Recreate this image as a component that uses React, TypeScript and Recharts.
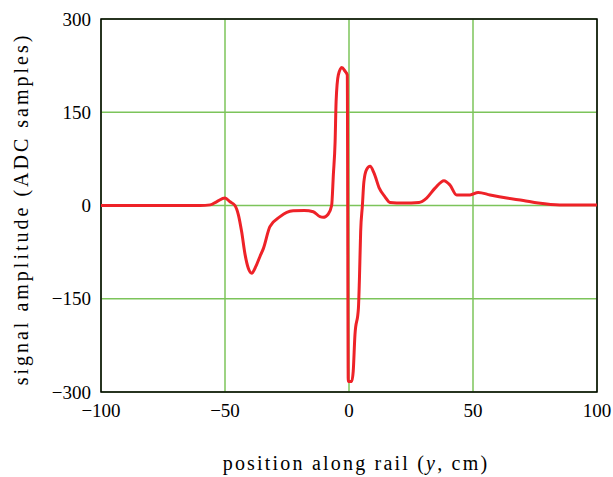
import React from 'react';
import { LineChart, Line, XAxis, YAxis, CartesianGrid, ReferenceArea } from 'recharts';

// position along rail (cm)
const positions = [
  -100, -80, -60, -56, -53.4, -50, -48, -46, -44.6, -43.3, -41.9, -40.6, -39.2, -37.9, -35.9, -34.5,
  -31.9, -27.8, -25.1, -22.5, -18, -14.4, -11.7, -10.4, -8.4, -7, -6.3, -5.6, -5.2, -4.3, -2.9, -1.6,
  -0.7, -0.3, 1.1, 1.7, 2.4, 3.8, 4.2, 4.7, 5.4, 6.0, 7.1, 8.5, 10.1, 12.2, 14.5, 16.5, 22, 28.2,
  31.3, 34.7, 38.3, 40.7, 43.4, 48.8, 52.1, 56.9, 63.6, 70.3, 76.3, 85, 100,
];

// signal amplitude (ADC samples)
const amplitudes = [
  0, 0, 0, 1, 6, 12, 6, 0, -15, -42, -79, -101, -109, -101, -82, -69,
  -34, -18, -11, -8.5, -8, -10, -18, -19, -14, 0, 50, 103, 167, 210, 222, 216,
  210, -283, -283, -267, -208, -165, -119, -42, 0, 38, 58, 63, 52, 28, 14, 5, 4, 5,
  12, 28, 40, 33, 17, 17, 21, 17, 12, 8, 4, 1, 1,
];

const xTicks = [-100, -50, 0, 50, 100];
const yTicks = [-300, -150, 0, 150, 300];

const data = positions.map((y, i) => ({ pos: y, amp: amplitudes[i] }));

const FONT = '"Liberation Serif", "Times New Roman", serif';
const fmt = (v: number) => String(v).replace('-', '\u2212');

export default function App() {
  return (
    <div style={{ position: 'absolute', left: 0, top: 0, background: '#fff' }}>
      <LineChart width={613} height={477} data={data} margin={{ top: 19, right: 16, bottom: 55, left: 41 }}>
        <CartesianGrid stroke="#7cc45a" strokeWidth={1.5} horizontalValues={yTicks} verticalValues={xTicks} />
        <XAxis
          dataKey="pos"
          type="number"
          domain={[-100, 100]}
          ticks={xTicks}
          tickFormatter={fmt}
          axisLine={false}
          tickLine={false}
          tickSize={0}
          tickMargin={12}
          height={30}
          tick={{ fontSize: 19, fill: '#000', fontFamily: FONT }}
        />
        <YAxis
          type="number"
          domain={[-300, 300]}
          ticks={yTicks}
          tickFormatter={fmt}
          axisLine={false}
          tickLine={false}
          tickSize={0}
          tickMargin={10}
          width={60}
          tick={{ fontSize: 19, fill: '#000', fontFamily: FONT }}
        />
        <ReferenceArea x1={-100} x2={100} y1={-300} y2={300} fill="none" stroke="#000" strokeWidth={1.5} ifOverflow="visible" />
        <Line
          dataKey="amp"
          type="monotone"
          stroke="#ee2228"
          strokeWidth={3}
          dot={false}
          isAnimationActive={false}
        />
        <text x={356} y={470} textAnchor="middle" fontFamily={FONT} fontSize={20} letterSpacing={2.2} fill="#000">
          position along rail (<tspan fontStyle="italic">y</tspan>, cm)
        </text>
        <text
          x={28}
          y={209}
          textAnchor="middle"
          fontFamily={FONT}
          fontSize={20}
          letterSpacing={3}
          fill="#000"
          transform="rotate(-90 28 209)"
        >
          signal amplitude (ADC samples)
        </text>
      </LineChart>
    </div>
  );
}
